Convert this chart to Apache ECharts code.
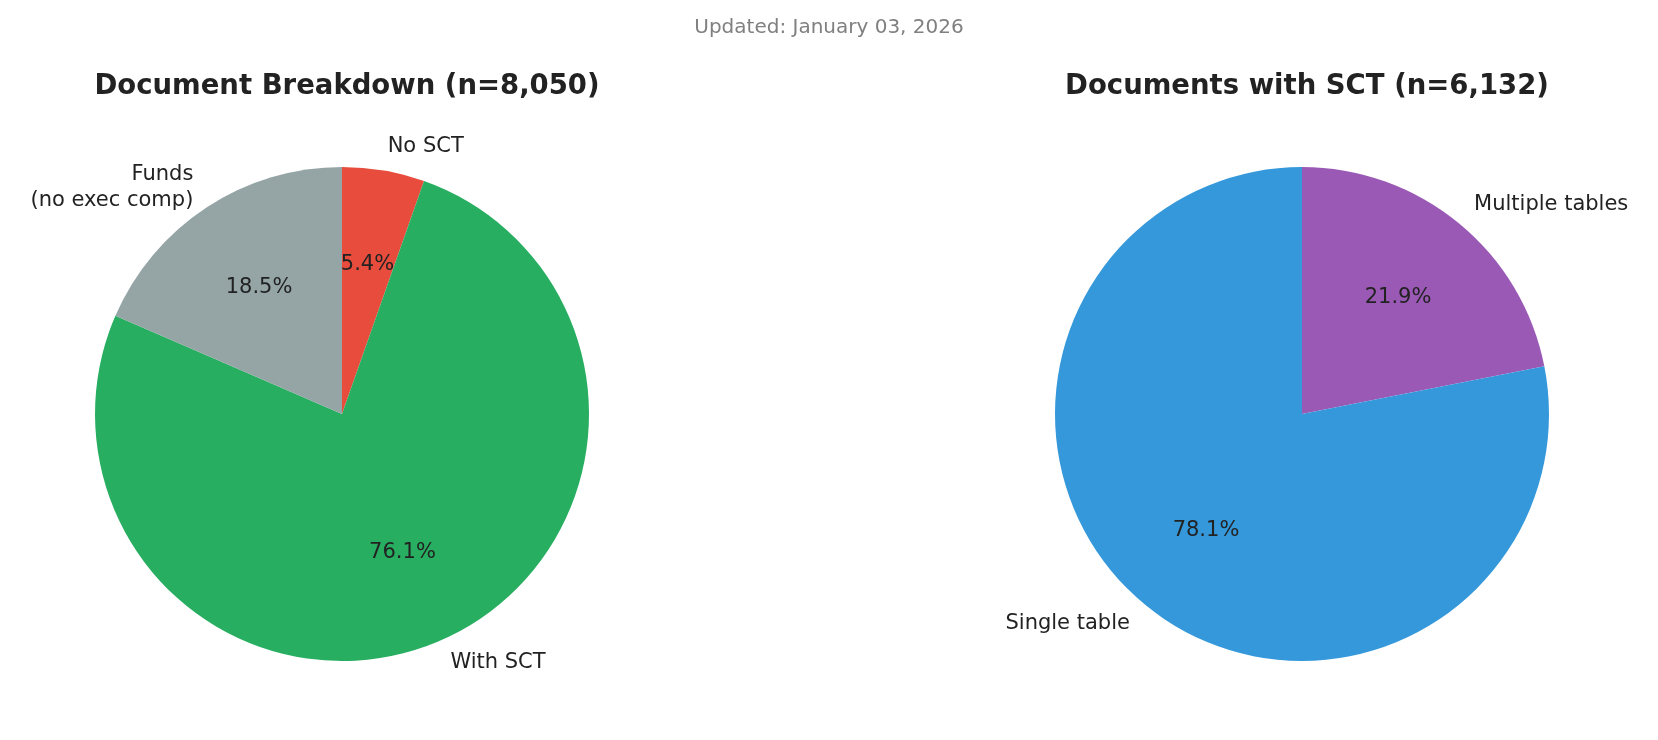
<!DOCTYPE html>
<html><head><meta charset="utf-8">
<script src="https://cdn.jsdelivr.net/npm/echarts@6/dist/echarts.min.js"></script>
<style>html,body{margin:0;padding:0;background:#fff}#c{width:1658px;height:740px}</style>
</head><body><div id="c"></div>
<script>
const leftNames = ['No SCT', 'With SCT', 'Funds\n(no exec comp)'];
const leftValues = [434, 6132, 1489];
const leftColors = ['#e74c3c', '#27ae60', '#95a5a6'];
const rightNames = ['Multiple tables', 'Single table'];
const rightValues = [1343, 4789];
const rightColors = ['#9b59b6', '#3498db'];
const F = 'DejaVu Sans';
function mk(names, vals){return names.map((n,i)=>({name:n,value:vals[i]}));}
const R = 247, CY = 414;
function pies(names, vals, colors, cx){
  const d = mk(names, vals);
  return [
    {type:'pie', center:[cx,CY], radius:[0,R], startAngle:90, clockwise:true, silent:true,
     color:colors, itemStyle:{borderWidth:0},
     label:{show:true, position:'outside', formatter:'{b}', fontFamily:F, fontSize:21, color:'#222', lineHeight:26, distanceToLabelLine:0},
     labelLine:{show:false, length:24, length2:0}, data:d, animation:false},
    {type:'pie', center:[cx,CY], radius:[0,R*1.2], startAngle:90, clockwise:true, silent:true,
     itemStyle:{color:'transparent'},
     label:{show:true, position:'inside', formatter:p=>p.percent.toFixed(1)+'%', fontFamily:F, fontSize:21, color:'#222'},
     labelLine:{show:false}, data:d, animation:false}
  ];
}
const chart = echarts.init(document.getElementById('c'));
chart.setOption({
  animation:false,
  title:[
    {text:'Updated: January 03, 2026', left:'center', top:13, textStyle:{fontFamily:F, fontSize:20, fontWeight:'normal', color:'#808080'}},
    {text:'Document Breakdown (n=8,050)', left:342, top:68, textAlign:'center', textStyle:{fontFamily:F, fontSize:27.5, fontWeight:'bold', color:'#222'}},
    {text:'Documents with SCT (n=6,132)', left:1302, top:68, textAlign:'center', textStyle:{fontFamily:F, fontSize:27.5, fontWeight:'bold', color:'#222'}}
  ],
  series:[...pies(leftNames,leftValues,leftColors,342), ...pies(rightNames,rightValues,rightColors,1302)]
});
</script></body></html>
